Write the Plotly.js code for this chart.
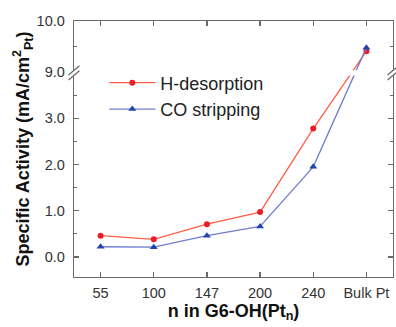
<!DOCTYPE html>
<html>
<head>
<meta charset="utf-8">
<script src="https://cdn.plot.ly/plotly-3.0.1.min.js"></script>
<style>html,body{margin:0;padding:0;background:#fff;}#chart{width:396px;height:327px;}</style>
</head>
<body>
<div id="chart"></div>
<script>
// ---- data ----
var categories = ['55', '100', '147', '200', '240', 'Bulk Pt'];
var hDesorption = [0.46, 0.38, 0.71, 0.97, 2.78, 9.41];
var coStripping = [0.22, 0.21, 0.46, 0.66, 1.95, 9.48];
var yTickValues = [0, 1, 2, 3, 9, 10];
var yTickLabels = ['0.0', '1.0', '2.0', '3.0', '9.0', '10.0'];
var yMinorValues = [0.5, 1.5, 2.5, 3.5, 9.5];

// ---- broken axis mapping (lower part 0..4, upper part 9..10) ----
var BREAK_LOW = 4.0, BREAK_HIGH = 9.0, UPPER_SCALE = 1.109;
function brk(v) { return v <= BREAK_LOW + 1 ? v : BREAK_LOW + (v - BREAK_HIGH) * UPPER_SCALE; }
var yTop = brk(10);
var yBottom = -0.435;

var axisColor = '#6a6a6a';
var fontFam = '"Liberation Sans", Arial, Helvetica, sans-serif';

var traces = [
  {
    x: categories, y: hDesorption.map(brk), name: 'H-desorption',
    type: 'scatter', mode: 'lines+markers',
    line: {color: '#ff5f45', width: 1.3},
    marker: {color: '#ee1c24', symbol: 'circle', size: 6}
  },
  {
    x: categories, y: coStripping.map(brk), name: 'CO stripping',
    type: 'scatter', mode: 'lines+markers',
    line: {color: '#6f7ed0', width: 1.3},
    marker: {color: '#2343b0', symbol: 'triangle-up', size: 7}
  }
];

var bandLo = BREAK_LOW - 0.07, bandHi = BREAK_LOW + 0.04;
var sx = 0.017, rise = 0.2;
function slash(xc, yc) {
  return {type: 'line', xref: 'paper', yref: 'y', x0: xc - sx, x1: xc + sx,
    y0: yc - rise / 2, y1: yc + rise / 2, line: {color: axisColor, width: 1.3}, layer: 'above'};
}
var shapes = [
  {type: 'rect', xref: 'paper', yref: 'y', x0: -0.012, x1: 1.012, y0: bandLo, y1: bandHi,
   fillcolor: '#ffffff', line: {width: 0}, layer: 'above'},
  slash(0, bandLo), slash(0, bandHi), slash(1, bandLo), slash(1, bandHi)
];

var layout = {
  width: 396, height: 327,
  margin: {l: 74, r: 3, t: 21, b: 50},
  paper_bgcolor: '#ffffff', plot_bgcolor: '#ffffff',
  font: {family: fontFam, color: '#333333', size: 14},
  showlegend: true,
  legend: {
    x: 0.095, y: 0.83, xanchor: 'left', yanchor: 'top',
    bgcolor: 'rgba(0,0,0,0)', font: {size: 18, color: '#222222', family: fontFam},
    itemwidth: 46, tracegroupgap: 0
  },
  xaxis: {
    type: 'category', range: [-0.5, 5.5],
    showline: true, linecolor: axisColor, linewidth: 1.3, mirror: 'ticks',
    ticks: 'inside', ticklen: 5, tickwidth: 1.2, tickcolor: axisColor,
    showgrid: false, zeroline: false,
    tickfont: {size: 14.5, color: '#333333'},
    ticklabelstandoff: 2,
    title: {text: '<b>n in G6-OH(Pt<sub>n</sub>)</b>', font: {size: 18, color: '#111111'}, standoff: 3}
  },
  yaxis: {
    range: [yBottom, yTop],
    showline: true, linecolor: axisColor, linewidth: 1.3, mirror: 'ticks',
    ticks: 'inside', ticklen: 5, tickwidth: 1.2, tickcolor: axisColor,
    tickmode: 'array', tickvals: yTickValues.map(brk), ticktext: yTickLabels,
    minor: {tickmode: 'array', tickvals: yMinorValues.map(brk), ticks: 'inside', ticklen: 3, tickwidth: 1.2, tickcolor: axisColor, showgrid: false},
    showgrid: false, zeroline: false,
    tickfont: {size: 14.5, color: '#333333'},
    ticklabelstandoff: 5,
    title: {text: '<b>Specific Activity (mA/cm<sup>2</sup><sub>Pt</sub>)</b>', font: {size: 18, color: '#111111'}, standoff: 2}
  },
  shapes: shapes
};

Plotly.newPlot('chart', traces, layout, {displayModeBar: false, staticPlot: true});
</script>
</body>
</html>
